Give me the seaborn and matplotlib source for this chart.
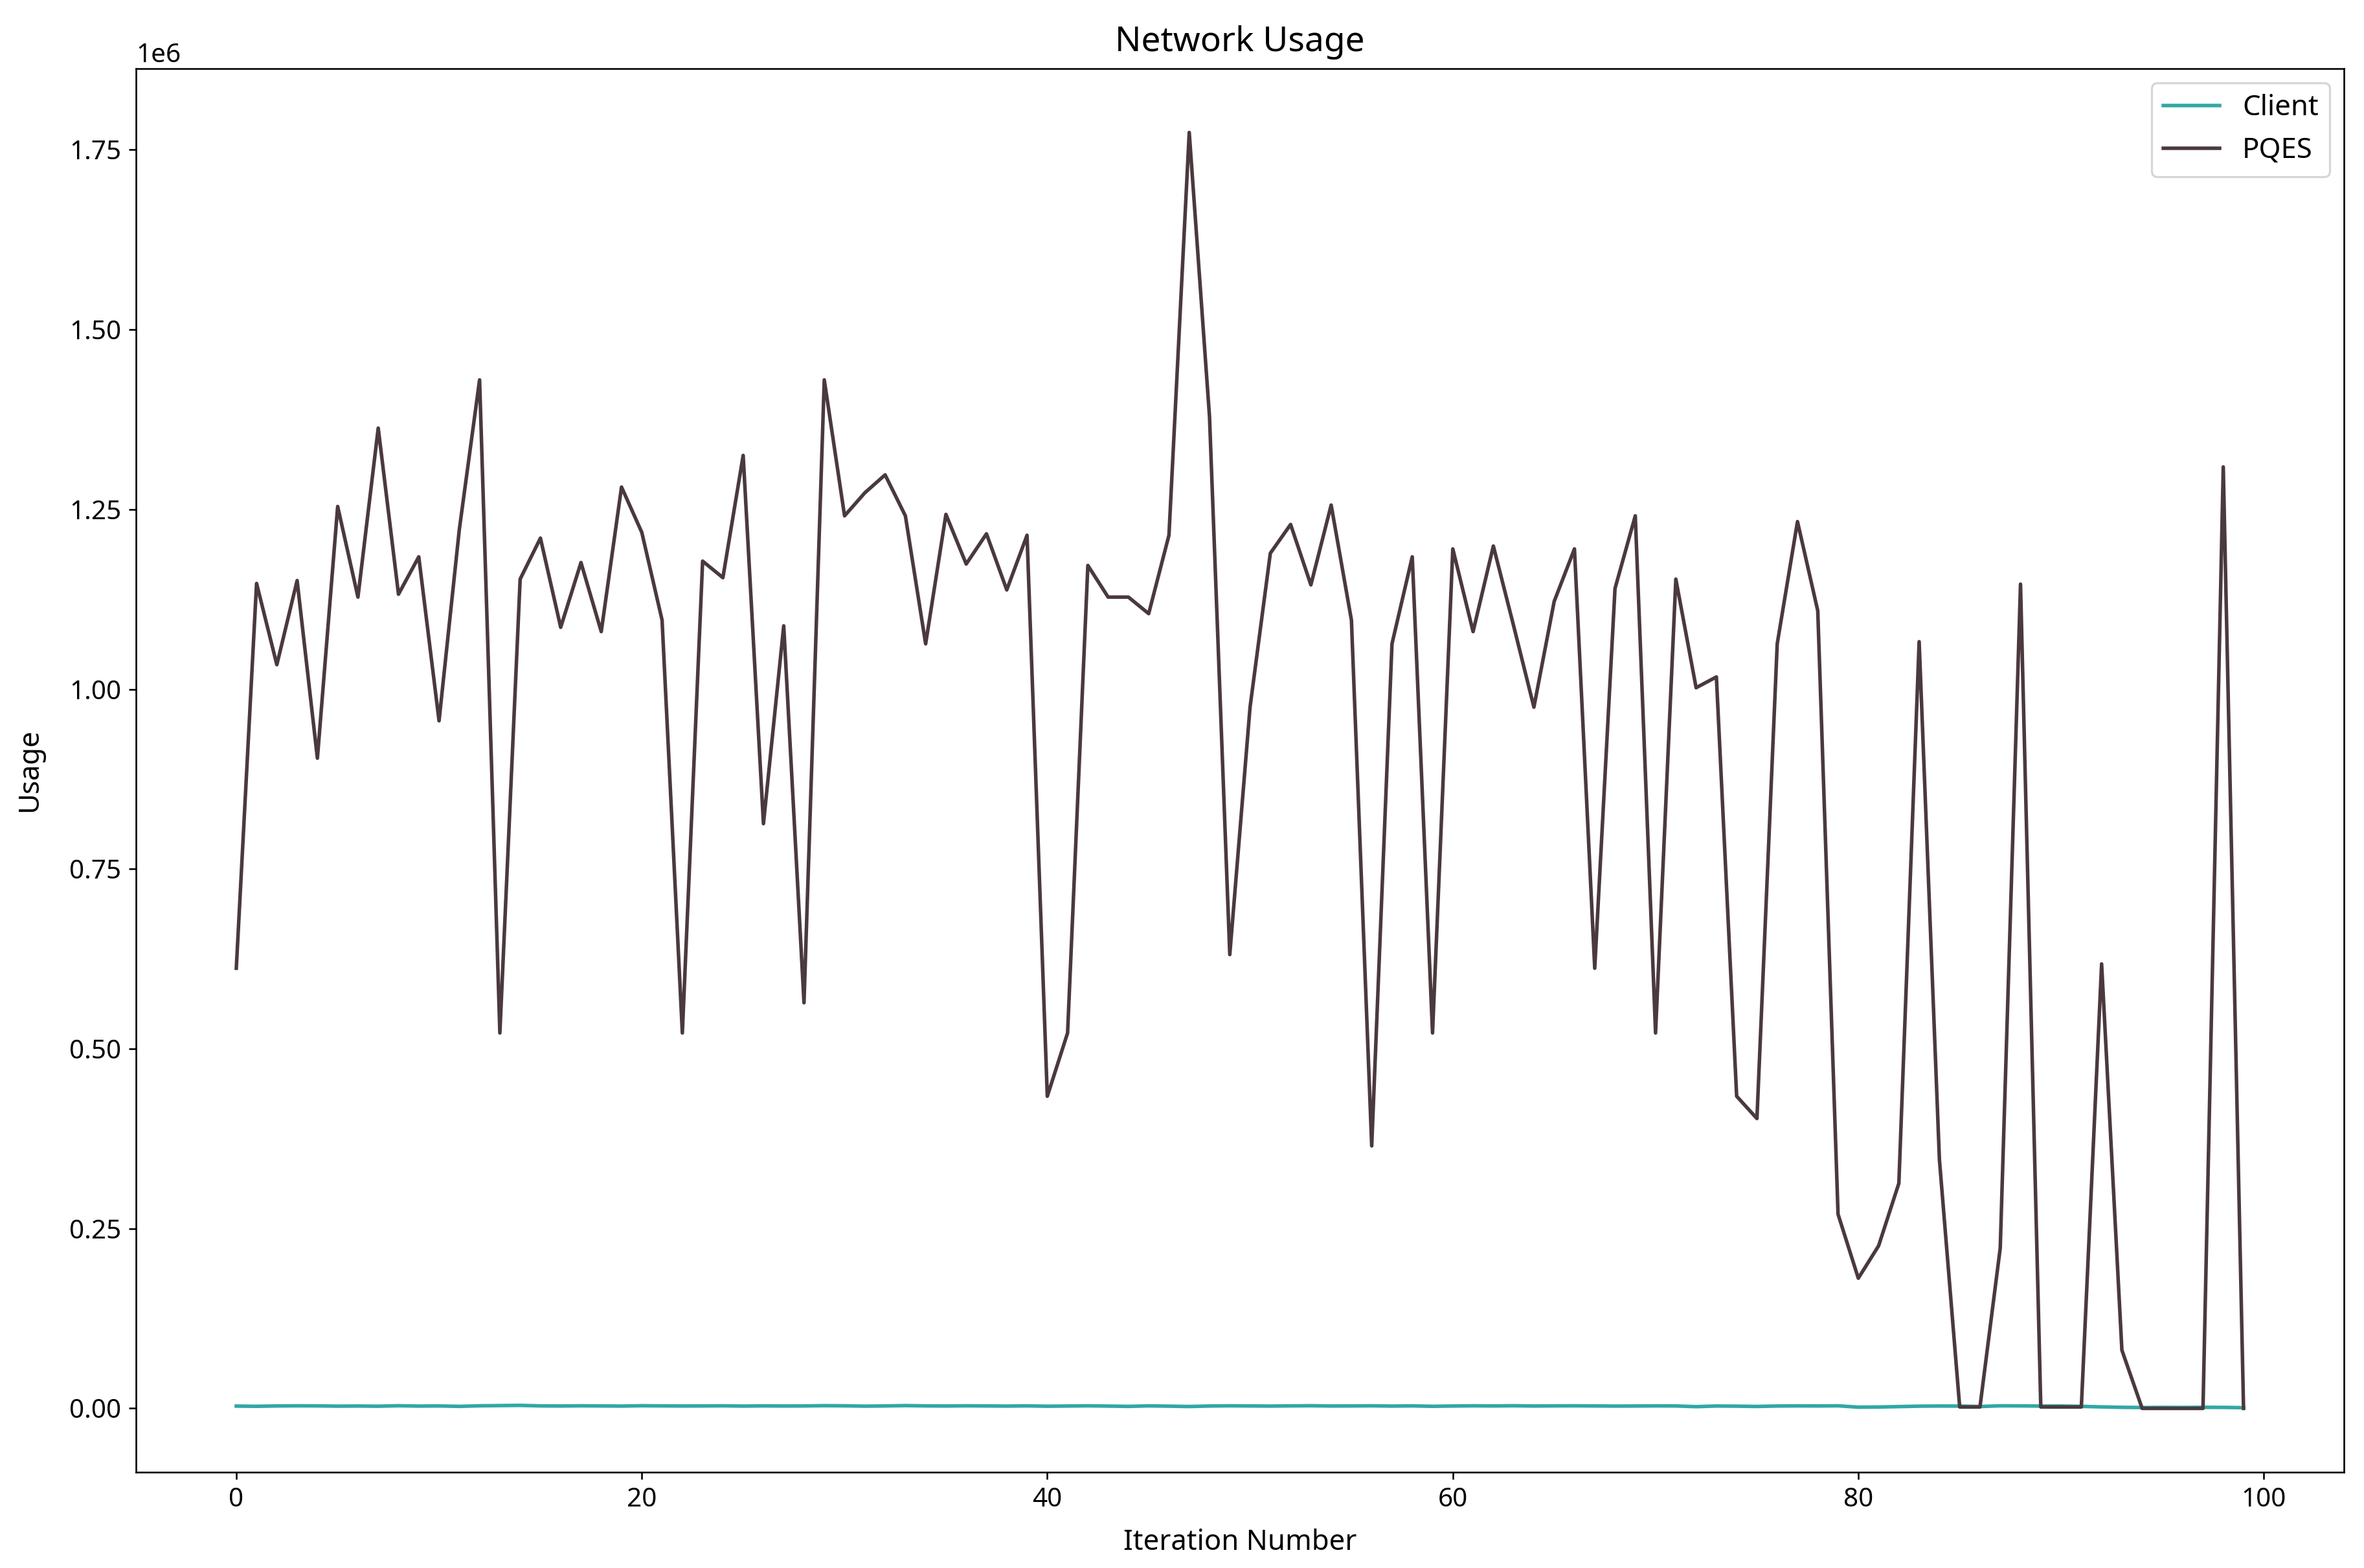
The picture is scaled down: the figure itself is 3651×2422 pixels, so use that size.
import numpy as np
import pandas as pd
import matplotlib
matplotlib.use("Agg")
import matplotlib.pyplot as plt
import seaborn as sns

iterations = list(range(100))

pqes = [
    0.612, 1.147, 1.034, 1.151, 0.904, 1.254, 1.128, 1.363, 1.132, 1.184,
    0.956, 1.222, 1.430, 0.522, 1.153, 1.210, 1.086, 1.176, 1.080, 1.281,
    1.218, 1.096, 0.522, 1.178, 1.155, 1.325, 0.813, 1.088, 0.564, 1.430,
    1.241, 1.273, 1.298, 1.241, 1.063, 1.243, 1.174, 1.216, 1.138, 1.214,
    0.434, 0.522, 1.172, 1.128, 1.128, 1.105, 1.214, 1.774, 1.379, 0.631,
    0.975, 1.189, 1.229, 1.145, 1.256, 1.096, 0.365, 1.063, 1.184, 0.522,
    1.195, 1.080, 1.199, 1.088, 0.975, 1.122, 1.195, 0.612, 1.140, 1.241,
    0.522, 1.153, 1.002, 1.017, 0.434, 0.403, 1.063, 1.233, 1.109, 0.270,
    0.181, 0.226, 0.313, 1.066, 0.346, 0.002, 0.002, 0.223, 1.146, 0.002,
    0.002, 0.002, 0.618, 0.081, 0.0, 0.0, 0.0, 0.0, 1.309, 0.0,
]
pqes = [v * 1e6 for v in pqes]

client = [
    3200, 2900, 3400, 3600, 3500, 3100, 3300, 3000, 3700, 3200,
    3400, 2800, 3600, 3900, 4200, 3500, 3300, 3600, 3400, 3200,
    3700, 3500, 3300, 3400, 3600, 3200, 3500, 3300, 3400, 3800,
    3600, 3100, 3400, 3900, 3500, 3300, 3600, 3400, 3200, 3500,
    3000, 3300, 3600, 3200, 2800, 3500, 3100, 2600, 3300, 3600,
    3400, 3200, 3500, 3700, 3300, 3400, 3600, 3200, 3500, 2900,
    3300, 3600, 3400, 3700, 3300, 3500, 3600, 3400, 3200, 3300,
    3500, 3400, 2400, 3300, 3100, 2700, 3300, 3500, 3400, 3600,
    1700, 1900, 2500, 3100, 3300, 3200, 2600, 3600, 3500, 3200,
    3300, 2800, 2100, 1500, 1200, 1400, 1300, 1500, 1400, 1000,
]

series_names = ["Client", "PQES"]
series_colors = ["#31a8a5", "#4a393d"]

df = pd.DataFrame({
    "Iteration Number": iterations * 2,
    "Usage": client + pqes,
    "Series": [series_names[0]] * len(iterations) + [series_names[1]] * len(iterations),
})

plt.rcParams['font.family'] = ['Noto Sans', 'DejaVu Sans']

dpi = 233
fig = plt.figure(figsize=(3651 / dpi, 2422 / dpi), dpi=dpi)
ax = fig.add_axes([0.0575, 0.0611, 0.9915 - 0.0575, 0.9562 - 0.0611])

sns.lineplot(data=df, x="Iteration Number", y="Usage", hue="Series",
             palette=dict(zip(series_names, series_colors)), linewidth=1.7, ax=ax)

ax.set_title("Network Usage", fontsize=16.5, pad=8.5)
ax.set_xlabel("Iteration Number", fontsize=13.5, labelpad=7.5)
ax.set_ylabel("Usage", fontsize=13.5, labelpad=12)
ax.tick_params(labelsize=12.5)
ax.yaxis.get_offset_text().set_fontsize(12.5)
ax.legend(loc="upper right", fontsize=13.5, title=None)

fig.savefig("out.png", dpi=dpi)
